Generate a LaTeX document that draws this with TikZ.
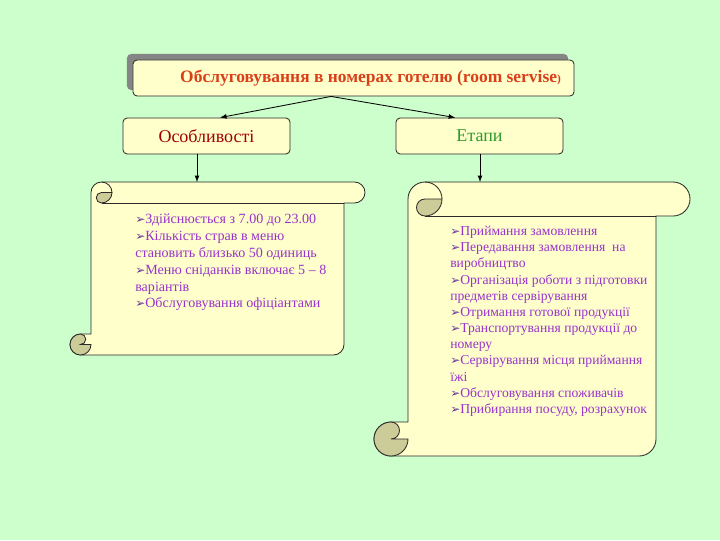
\documentclass[tikz,border=0pt]{standalone}
\usepackage{fontspec}
\setmainfont{Liberation Serif}
\newfontfamily\symfont{DejaVu Sans}
\usepackage{xcolor}
\usetikzlibrary{arrows}
\usetikzlibrary{shadows}

\definecolor{bggreen}{HTML}{CCFFCC}
\definecolor{paper}{HTML}{FFFFCC}
\definecolor{curl}{HTML}{CCCC99}
\definecolor{shadowgray}{HTML}{858585}
\definecolor{edge}{HTML}{2A2A2A}
\definecolor{titlered}{HTML}{D9401A}
\definecolor{featred}{HTML}{A00000}
\definecolor{stagegreen}{HTML}{2E9A2E}
\definecolor{listpurple}{HTML}{9933CC}
\definecolor{bulletpurple}{HTML}{663399}

\newcommand{\bul}{{\color{bulletpurple}\symfont\fontsize{8.5}{8}\selectfont ➢}}

\newcommand{\drawscroll}[5]{%
  \pgfmathsetmacro\scrA{#1}
  \pgfmathsetmacro\scrT{#2}
  \pgfmathsetmacro\scrB{#4}
  \pgfmathsetmacro\scrC{#5}
  \pgfmathsetmacro\scrH{#5/2}
  \pgfmathsetmacro\scrQ{#5/4}
  \pgfmathsetmacro\scrL{#1+#5}
  \pgfmathsetmacro\scrR{#3-#5}
  \filldraw[scrollline, fill=paper]
    (\scrL,{-(\scrT+\scrH)}) arc (180:90:\scrH)
    -- ({\scrR+\scrH},-\scrT) arc (90:-90:\scrH)
    -- (\scrR,{-(\scrT+\scrC)})
    -- (\scrR,{-(\scrB-\scrH)}) arc (0:-90:\scrH)
    -- ({\scrA+\scrH},-\scrB) arc (270:90:\scrH)
    -- (\scrL,{-(\scrB-\scrC)}) -- cycle;
  \draw[scrollline] ({\scrL+\scrH},{-(\scrT+\scrC)}) -- (\scrR,{-(\scrT+\scrC)});
  \filldraw[scrollline, fill=curl]
    ({\scrL+\scrH},{-(\scrT+\scrH)}) arc (90:270:\scrQ)
    arc (270:360:\scrH) -- cycle;
  \draw[scrollline] ({\scrL+\scrH},-\scrT) arc (90:0:\scrH);
  \filldraw[scrollline, fill=curl]
    ({\scrA+\scrH},{-(\scrB-\scrC)}) arc (90:360:\scrH)
    -- ({\scrA+\scrH},{-(\scrB-\scrH)}) arc (-90:90:\scrQ) -- cycle;
}

\begin{document}
\begin{tikzpicture}[x=0.025cm, y=0.025cm,
  scrollline/.style={draw=edge, line width=0.6pt},
  boxstyle/.style={draw=edge, fill=paper, rounded corners=3pt, line width=0.6pt,
    minimum height=0.9cm, inner sep=0pt},
  titlebox/.style={boxstyle, minimum width=11.025cm, text=titlered,
    font=\fontsize{12.4}{14}\selectfont\bfseries,
    drop shadow={shadow xshift=-0.15cm, shadow yshift=0.15cm, fill=shadowgray, opacity=1}},
  sidebox/.style={boxstyle, minimum width=4.175cm, font=\fontsize{12.8}{15}\selectfont},
  listtext/.style={align=left, inner sep=0pt, anchor=north west, text=listpurple},
  link/.style={->, >=latex, line width=0.6pt}]

\fill[bggreen] (0,0) rectangle (720,-540);

\node (title) at (353.5,-78) [titlebox] {\hspace*{0.85cm}Обслуговування в номерах готелю (room servise{\fontsize{8}{9}\selectfont)}};
\node (feat) at (206.5,-136) [sidebox, text=featred] {Особливості};
\node (stages) at (479.5,-136) [sidebox, text=stagegreen] {Етапи};

\drawscroll{70}{182}{365}{355}{21}
\drawscroll{374}{182}{690}{456}{34}

\coordinate (leftscroll) at (197,-182);
\coordinate (rightscroll) at (480,-182);

\draw[link] ([xshift=-0.56cm]title.south) -- ([xshift=0.34cm]feat.north);
\draw[link] ([xshift=-0.56cm]title.south) -- ([xshift=-0.61cm]stages.north);
\draw[link] (feat.south -| leftscroll) -- (leftscroll);
\draw[link] (stages.south -| rightscroll) -- (rightscroll);

\node (featlist) at (135,-214) [listtext, font=\fontsize{10}{11.95}\selectfont]
  {\bul Здійснюється з 7.00 до 23.00\\
   \bul Кількість страв в меню\\
   становить близько 50 одиниць\\
   \bul Меню сніданків включає 5 – 8\\
   варіантів\\
   \bul Обслуговування офіціантами};

\node (stagelist) at (450,-226) [listtext, font=\fontsize{9.7}{11.5}\selectfont]
  {\bul Приймання замовлення\\
   \bul Передавання замовлення~ на\\
   виробництво\\
   \bul Організація роботи з підготовки\\
   предметів сервірування\\
   \bul Отримання готової продукції\\
   \bul Транспортування продукції до\\
   номеру\\
   \bul Сервірування місця приймання\\
   їжі\\
   \bul Обслуговування споживачів\\
   \bul Прибирання посуду, розрахунок};

\end{tikzpicture}
\end{document}
